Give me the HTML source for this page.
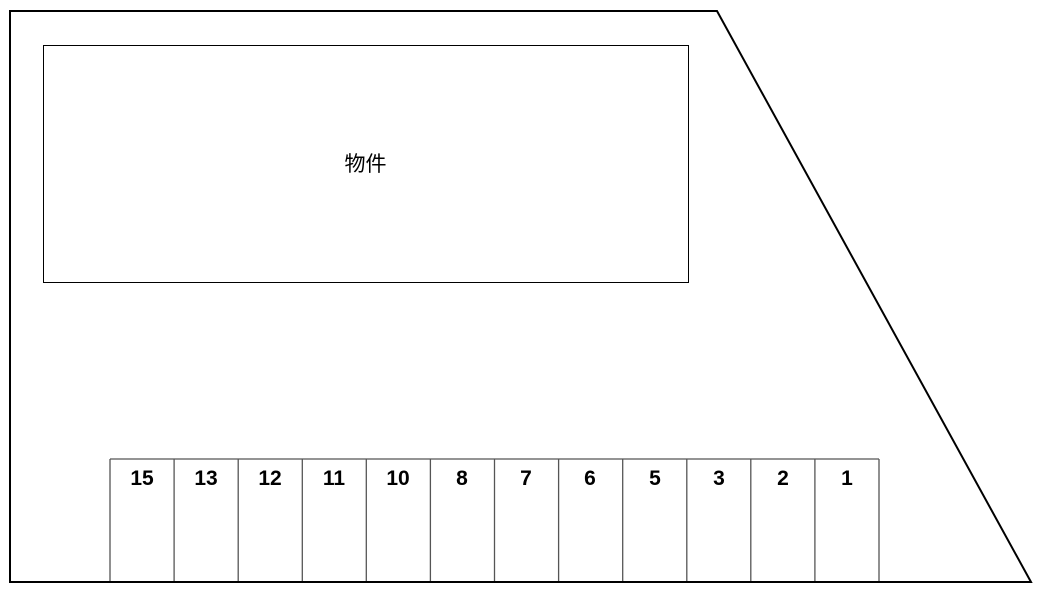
<!DOCTYPE html>
<html><head><meta charset="utf-8"><style>html,body{margin:0;padding:0;background:#fff;}svg{display:block}</style></head>
<body>
<svg width="1045" height="613" viewBox="0 0 1045 613" xmlns="http://www.w3.org/2000/svg">
<rect width="1045" height="613" fill="#fff"/>
<polygon points="10,11 717,11 1031,582 10,582" fill="none" stroke="#000" stroke-width="2"/>
<rect x="43.5" y="45.5" width="645" height="237" fill="none" stroke="#000" stroke-width="1"/>
<text x="365.5" y="171" font-family="'Liberation Sans','Noto Sans CJK JP',sans-serif" font-size="21" text-anchor="middle" fill="#000">物件</text>
<g stroke="#555" stroke-width="1.3" fill="none">
<line x1="110" y1="459" x2="879" y2="459"/>
<line x1="110" y1="459" x2="110" y2="582"/>
<line x1="174.1" y1="459" x2="174.1" y2="582"/>
<line x1="238.2" y1="459" x2="238.2" y2="582"/>
<line x1="302.3" y1="459" x2="302.3" y2="582"/>
<line x1="366.3" y1="459" x2="366.3" y2="582"/>
<line x1="430.4" y1="459" x2="430.4" y2="582"/>
<line x1="494.5" y1="459" x2="494.5" y2="582"/>
<line x1="558.6" y1="459" x2="558.6" y2="582"/>
<line x1="622.7" y1="459" x2="622.7" y2="582"/>
<line x1="686.8" y1="459" x2="686.8" y2="582"/>
<line x1="750.8" y1="459" x2="750.8" y2="582"/>
<line x1="814.9" y1="459" x2="814.9" y2="582"/>
<line x1="879" y1="459" x2="879" y2="582"/>
</g>
<line x1="10" y1="582" x2="1031" y2="582" stroke="#000" stroke-width="2"/>
<g font-family="'Liberation Sans',sans-serif" font-size="21" font-weight="bold" text-anchor="middle" fill="#000">
<text x="142" y="485">15</text>
<text x="206" y="485">13</text>
<text x="270" y="485">12</text>
<text x="334" y="485">11</text>
<text x="398" y="485">10</text>
<text x="462" y="485">8</text>
<text x="526" y="485">7</text>
<text x="590" y="485">6</text>
<text x="655" y="485">5</text>
<text x="719" y="485">3</text>
<text x="783" y="485">2</text>
<text x="847" y="485">1</text>
</g>
</svg>
</body></html>
